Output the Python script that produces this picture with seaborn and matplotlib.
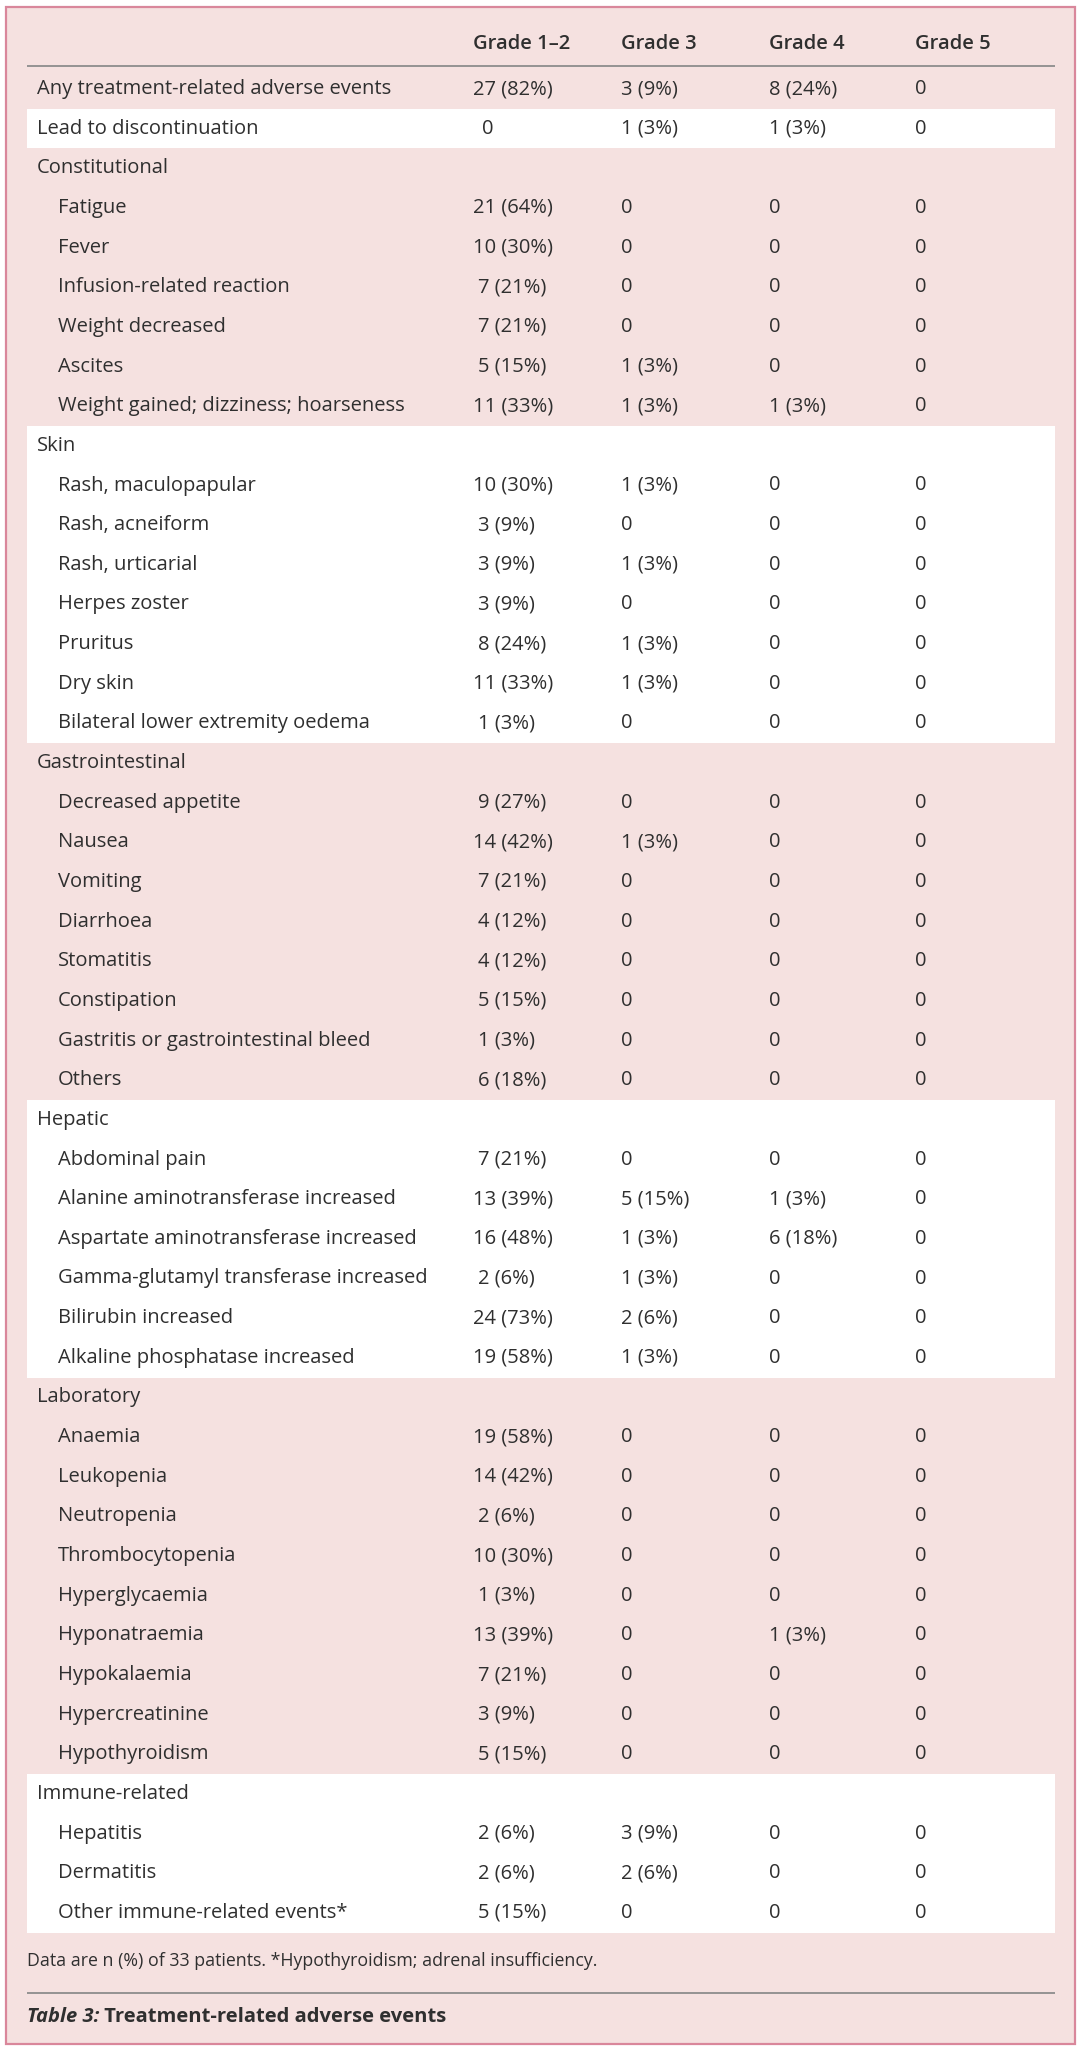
import matplotlib
matplotlib.use("Agg")
import matplotlib.pyplot as plt
from matplotlib.patches import Rectangle
import seaborn as sns

# table content
labels = [
    "Any treatment-related adverse events", "Lead to discontinuation",
    "Constitutional", "Fatigue", "Fever", "Infusion-related reaction",
    "Weight decreased", "Ascites", "Weight gained; dizziness; hoarseness",
    "Skin", "Rash, maculopapular", "Rash, acneiform", "Rash, urticarial",
    "Herpes zoster", "Pruritus", "Dry skin", "Bilateral lower extremity oedema",
    "Gastrointestinal", "Decreased appetite", "Nausea", "Vomiting", "Diarrhoea",
    "Stomatitis", "Constipation", "Gastritis or gastrointestinal bleed", "Others",
    "Hepatic", "Abdominal pain", "Alanine aminotransferase increased",
    "Aspartate aminotransferase increased", "Gamma-glutamyl transferase increased",
    "Bilirubin increased", "Alkaline phosphatase increased",
    "Laboratory", "Anaemia", "Leukopenia", "Neutropenia", "Thrombocytopenia",
    "Hyperglycaemia", "Hyponatraemia", "Hypokalaemia", "Hypercreatinine",
    "Hypothyroidism",
    "Immune-related", "Hepatitis", "Dermatitis", "Other immune-related events*",
]
groups = ["Constitutional", "Skin", "Gastrointestinal", "Hepatic", "Laboratory", "Immune-related"]
top_rows = ["Any treatment-related adverse events", "Lead to discontinuation"]

grade12 = ["27 (82%)", "0", "", "21 (64%)", "10 (30%)", "7 (21%)", "7 (21%)", "5 (15%)", "11 (33%)",
           "", "10 (30%)", "3 (9%)", "3 (9%)", "3 (9%)", "8 (24%)", "11 (33%)", "1 (3%)",
           "", "9 (27%)", "14 (42%)", "7 (21%)", "4 (12%)", "4 (12%)", "5 (15%)", "1 (3%)", "6 (18%)",
           "", "7 (21%)", "13 (39%)", "16 (48%)", "2 (6%)", "24 (73%)", "19 (58%)",
           "", "19 (58%)", "14 (42%)", "2 (6%)", "10 (30%)", "1 (3%)", "13 (39%)", "7 (21%)", "3 (9%)", "5 (15%)",
           "", "2 (6%)", "2 (6%)", "5 (15%)"]
grade3 = ["3 (9%)", "1 (3%)", "", "0", "0", "0", "0", "1 (3%)", "1 (3%)",
          "", "1 (3%)", "0", "1 (3%)", "0", "1 (3%)", "1 (3%)", "0",
          "", "0", "1 (3%)", "0", "0", "0", "0", "0", "0",
          "", "0", "5 (15%)", "1 (3%)", "1 (3%)", "2 (6%)", "1 (3%)",
          "", "0", "0", "0", "0", "0", "0", "0", "0", "0",
          "", "3 (9%)", "2 (6%)", "0"]
grade4 = ["8 (24%)", "1 (3%)", "", "0", "0", "0", "0", "0", "1 (3%)",
          "", "0", "0", "0", "0", "0", "0", "0",
          "", "0", "0", "0", "0", "0", "0", "0", "0",
          "", "0", "1 (3%)", "6 (18%)", "0", "0", "0",
          "", "0", "0", "0", "0", "0", "1 (3%)", "0", "0", "0",
          "", "0", "0", "0"]
grade5 = ["0", "0", ""] + ["0"] * 6 + [""] + ["0"] * 7 + [""] + ["0"] * 8 + [""] + ["0"] * 6 + \
         [""] + ["0"] * 9 + [""] + ["0"] * 3
columns = ["Grade 1\u20132", "Grade 3", "Grade 4", "Grade 5"]
white_blocks = [["Lead to discontinuation"], ["Skin"], ["Hepatic"], ["Immune-related"]]
footnote = "Data are n (%) of 33 patients. *Hypothyroidism; adrenal insufficiency."
caption_a = "Table 3:"
caption_b = " Treatment-related adverse events"

sns.set_theme(style="white")
plt.rcParams["font.family"] = ["Open Sans", "DejaVu Sans"]

PINK = "#f5e1e0"
EDGE = "#d9879b"
INK = "#2f2f2f"
FS = 14.5

fig = plt.figure(figsize=(10.8, 20.51), dpi=100)
ax = fig.add_axes([0, 0, 1, 1])
ax.set_xlim(0, 1080)
ax.set_ylim(2051, 0)
ax.axis("off")

y0, dy = 89, 39.65
row_y = lambda i: y0 + i * dy
left, right = 27, 1055
col_x = [473, 621, 769, 915]

ax.add_patch(Rectangle((6, 7), 1069, 2037, facecolor=PINK, edgecolor=EDGE, lw=1.6, zorder=0))

# white bands: a single row, or a group heading through to its last item
for blk in white_blocks:
    start = labels.index(blk[0])
    end = start
    if blk[0] in groups:
        end = start + 1
        while end + 1 < len(labels) and labels[end + 1] not in groups:
            end += 1
    ax.add_patch(Rectangle((left, row_y(start) - dy / 2), right - left, (end - start + 1) * dy,
                           facecolor="white", edgecolor="none", zorder=1))

# header
for x, c in zip(col_x, columns):
    ax.text(x, 44, c, ha="left", va="center", fontsize=FS, fontweight="semibold", color=INK, zorder=3)
ax.hlines(66, left, right, color="#8c8c8c", lw=1.3, zorder=3)

for i, lab in enumerate(labels):
    y = row_y(i)
    indent = 37 if (lab in groups or lab in top_rows) else 58
    ax.text(indent, y, lab, ha="left", va="center", fontsize=FS, color=INK, zorder=3)
    for j, vals in enumerate([grade12, grade3, grade4, grade5]):
        v = vals[i]
        if not v:
            continue
        x = col_x[j]
        if j == 0:
            n = v.split(" ")[0]
            if n == "0":
                x += 9
            elif len(n) == 1:
                x += 5
        ax.text(x, y, v, ha="left", va="center", fontsize=FS, color=INK, zorder=3)

ax.text(27, 1961, footnote, ha="left", va="center", fontsize=12.8, color=INK, zorder=3)
ax.hlines(1993, left, right, color="#8c8c8c", lw=1.3, zorder=3)
t1 = ax.text(27, 2017, caption_a, ha="left", va="center", fontsize=FS, fontweight="bold",
             fontstyle="italic", color=INK, zorder=3)
ax.annotate(caption_b, xy=(1, 0.5), xycoords=t1, ha="left", va="center", fontsize=FS,
            fontweight="bold", color=INK, zorder=3)

fig.savefig("out.png", dpi=100, facecolor="white")
